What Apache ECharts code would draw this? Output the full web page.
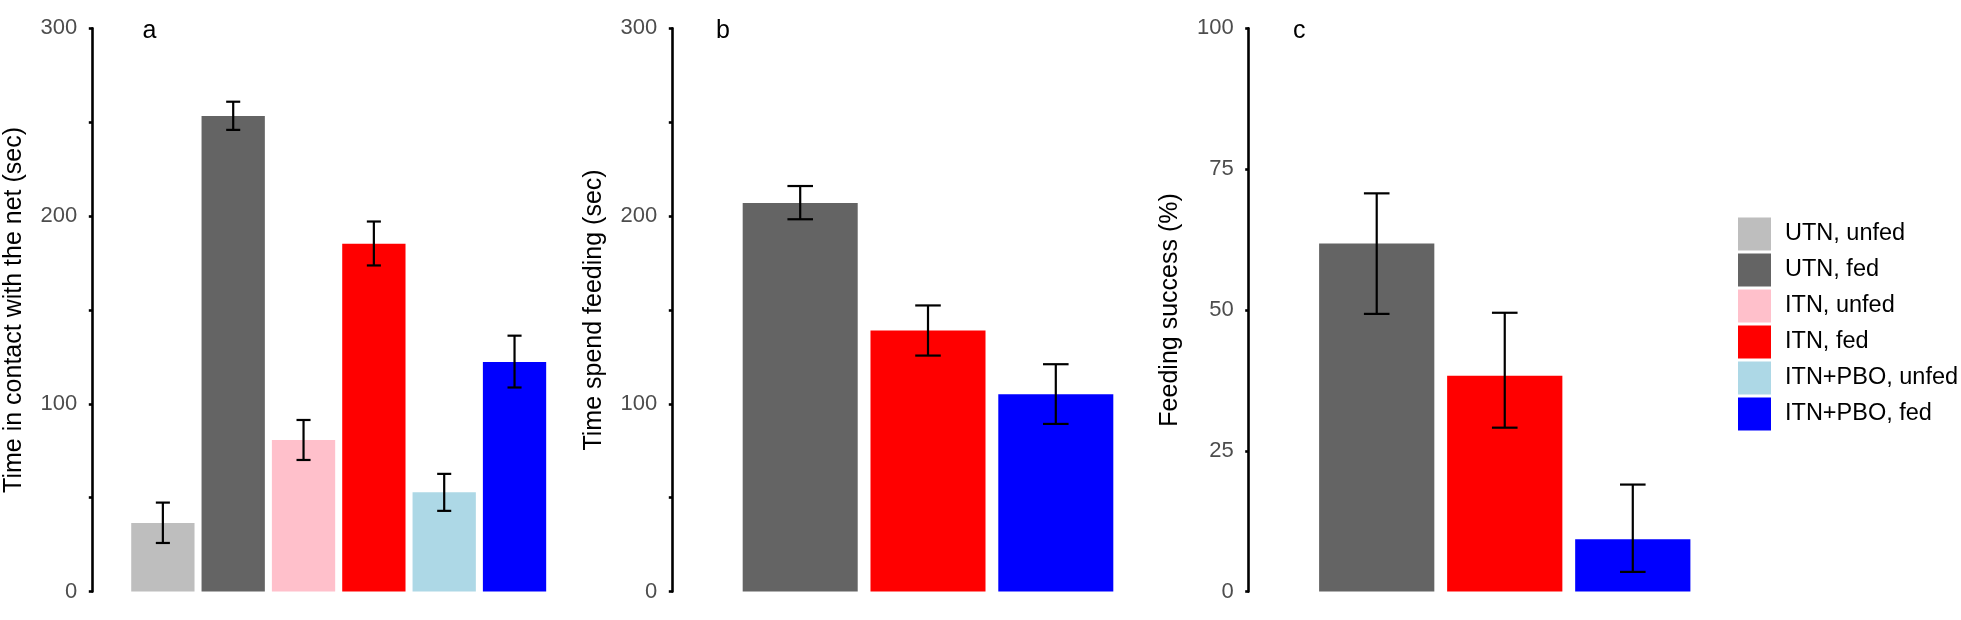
<!DOCTYPE html>
<html>
<head>
<meta charset="utf-8">
<script src="https://cdn.jsdelivr.net/npm/echarts@6/dist/echarts.min.js"></script>
<style>html,body{margin:0;padding:0;background:#fff}#c{width:1961px;height:620px}</style>
</head>
<body>
<div id="c"></div>
<script>
// ---- data ----
const groups = ['UTN, unfed', 'UTN, fed', 'ITN, unfed', 'ITN, fed', 'ITN+PBO, unfed', 'ITN+PBO, fed'];
const contactMean = [36.6, 253.3, 80.7, 185.3, 52.9, 122.3];
const contactLow  = [25.9, 245.9, 70.1, 173.7, 43.0, 108.7];
const contactHigh = [47.4, 260.9, 91.4, 197.1, 62.7, 136.3];

const fedGroups = ['UTN, fed', 'ITN, fed', 'ITN+PBO, fed'];
const feedTimeMean = [207.0, 139.0, 105.1];
const feedTimeLow  = [198.3, 125.7, 89.3];
const feedTimeHigh = [216.0, 152.4, 121.1];

const successMean = [61.8, 38.3, 9.3];
const successLow  = [49.3, 29.1, 3.5];
const successHigh = [70.7, 49.5, 19.0];

const panelLetters = ['a', 'b', 'c'];
const yTitles = ['Time in contact with the net (sec)', 'Time spend feeding (sec)', 'Feeding success (%)'];

// ---- styles ----
const palette = {
  'UTN, unfed': '#BEBEBE', 'UTN, fed': '#646464',
  'ITN, unfed': '#FFC0CB', 'ITN, fed': '#FF0000',
  'ITN+PBO, unfed': '#ADD8E6', 'ITN+PBO, fed': '#0000FF'
};
const FONT = '"Liberation Sans", Arial, Helvetica, sans-serif';
const TOP = 28.3, BOTTOM = 28.4;

const grids = [
  { left: 127.7, width: 422.0, top: TOP, bottom: BOTTOM },
  { left: 736.3, width: 383.4, top: TOP, bottom: BOTTOM },
  { left: 1312.7, width: 384.1, top: TOP, bottom: BOTTOM }
];
const offsets = [35.4, 64, 64];
const yMax = [300, 300, 100];
const yInt = [50, 50, 25];

const panels = [
  { cats: groups, mean: contactMean, low: contactLow, high: contactHigh },
  { cats: fedGroups, mean: feedTimeMean, low: feedTimeLow, high: feedTimeHigh },
  { cats: fedGroups, mean: successMean, low: successLow, high: successHigh }
];

const xAxis = panels.map((p, i) => ({
  type: 'category', gridIndex: i, data: p.cats, boundaryGap: true,
  axisLine: { show: false }, axisTick: { show: false }, axisLabel: { show: false }, splitLine: { show: false }
}));

const yAxis = panels.map((p, i) => ({
  type: 'value', gridIndex: i, min: 0, max: yMax[i], interval: yInt[i], offset: offsets[i],
  name: yTitles[i], nameLocation: 'middle', nameGap: 66, nameRotate: 90,
  nameTextStyle: { fontFamily: FONT, fontSize: 25, color: '#000' },
  axisLine: { show: true, lineStyle: { color: '#000', width: 2.6 } },
  axisTick: { show: true, length: 3.5, inside: false, lineStyle: { color: '#000', width: 2.6 } },
  axisLabel: {
    fontFamily: FONT, fontSize: 22, color: '#4D4D4D', margin: 15,
    formatter: v => (i < 2 ? (v % 100 === 0 ? String(v) : '') : String(v))
  },
  splitLine: { show: false }
}));

const series = [];
panels.forEach((p, i) => {
  p.cats.forEach((g, k) => {
    series.push({
      type: 'bar', name: g, xAxisIndex: i, yAxisIndex: i,
      barWidth: '90%', barGap: '-100%',
      itemStyle: { color: palette[g] },
      data: p.cats.map((c, j) => (j === k ? p.mean[j] : '-')),
      silent: true, animation: false
    });
  });
  series.push({
    type: 'custom', xAxisIndex: i, yAxisIndex: i, silent: true, animation: false, z: 10,
    data: p.cats.map((c, j) => [j, p.low[j], p.high[j]]),
    renderItem: function (params, api) {
      const x = api.value(0);
      const lo = api.coord([x, api.value(1)]);
      const hi = api.coord([x, api.value(2)]);
      const half = api.size([1, 0])[0] * 0.2 / 2;
      const st = { stroke: '#000', lineWidth: 2.2 };
      return {
        type: 'group', children: [
          { type: 'line', shape: { x1: hi[0], y1: hi[1], x2: lo[0], y2: lo[1] }, style: st },
          { type: 'line', shape: { x1: hi[0] - half, y1: hi[1], x2: hi[0] + half, y2: hi[1] }, style: st },
          { type: 'line', shape: { x1: lo[0] - half, y1: lo[1], x2: lo[0] + half, y2: lo[1] }, style: st }
        ]
      };
    }
  });
});

const letterPos = [[142.5, 31], [716, 31], [1293, 31]];

const chart = echarts.init(document.getElementById('c'), null, { renderer: 'canvas' });
chart.setOption({
  animation: false,
  backgroundColor: '#fff',
  grid: grids,
  xAxis: xAxis,
  yAxis: yAxis,
  legend: {
    orient: 'vertical', left: 1733, top: 212.5,
    itemWidth: 33, itemHeight: 33, itemGap: 3, icon: 'rect',
    data: groups,
    selectedMode: false,
    formatter: n => '{t|' + n + '}',
    textStyle: { fontFamily: FONT, fontSize: 23.5, color: '#000', rich: { t: { fontFamily: FONT, fontSize: 23.5, color: '#000', padding: [0, 0, 0, 9] } } }
  },
  graphic: panelLetters.map((l, i) => ({
    type: 'text', x: letterPos[i][0], y: letterPos[i][1],
    style: { text: l, fontFamily: FONT, fontSize: 25, fill: '#000', verticalAlign: 'middle', align: 'left' }
  })),
  series: series
});
</script>
</body>
</html>
